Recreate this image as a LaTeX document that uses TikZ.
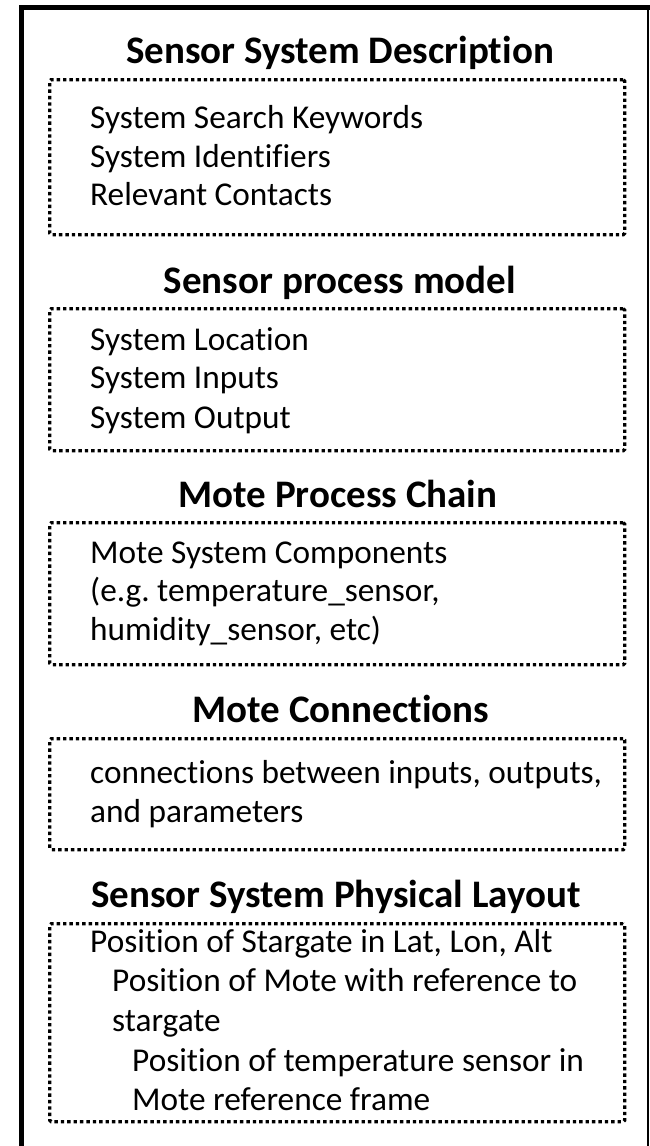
\documentclass[tikz,border=0pt]{standalone}
\usepackage{fontspec}
\setmainfont[Ligatures=NoCommon]{Carlito}
\begin{document}
\frenchspacing
\begin{tikzpicture}[x=1pt,y=-1pt,
  framerule/.style={line width=5pt, line join=miter},
  dotbox/.style={draw, line width=3.4pt, dash pattern=on 3.4pt off 3pt,
    rounded corners=1.5pt, inner sep=0pt, minimum width=575pt, anchor=north west},
  heading/.style={font=\fontsize{39}{44}\selectfont\bfseries, anchor=base, inner sep=0pt},
  item/.style={font=\fontsize{33.3}{39}\selectfont, anchor=base west, inner sep=0pt}]
\useasboundingbox (0,0) rectangle (650,1146);
\clip (0,0) rectangle (650,1146);

% outer frame, open at the bottom
\coordinate (fbl) at (21,1160);
\coordinate (ftl) at (21,7.5);
\coordinate (ftr) at (660,7.5);
\coordinate (frt) at (648,7.5);
\coordinate (frb) at (648,1160);
\draw[framerule] (fbl) -- (ftl) -- (ftr);
\draw[line width=2.5pt] (frt) -- (frb);

% Sensor System Description
\node[heading] (t1) at (340,63) {Sensor System Description};
\node[dotbox, minimum height=155pt] (b1) at (48,78) {};
\node[item] (b1a) at (90,128) {System Search Keywords};
\node[item] (b1b) at (90,167) {System Identifiers};
\node[item] (b1c) at (90,205) {Relevant Contacts};

% Sensor process model
\node[heading] (t2) at (340,293) {Sensor process model};
\node[dotbox, minimum height=142pt] (b2) at (48,307) {};
\node[item] (b2a) at (90,350) {System Location};
\node[item] (b2b) at (90,388) {System Inputs};
\node[item] (b2c) at (90,428) {System Output};

% Mote Process Chain
\node[heading] (t3) at (338,507) {Mote Process Chain};
\node[dotbox, minimum height=142pt] (b3) at (48,521) {};
\node[item] (b3a) at (90,563) {Mote System Components};
\node[item] (b3b) at (90,601) {(e.g. temperature\_sensor,};
\node[item] (b3c) at (90,640) {humidity\_sensor, etc)};

% Mote Connections
\node[heading] (t4) at (341,722) {Mote Connections};
\node[dotbox, minimum height=111pt] (b4) at (48,737) {};
\node[item] (b4a) at (90,783) {connections between inputs, outputs,};
\node[item] (b4b) at (90,822) {and parameters};

% Sensor System Physical Layout
\node[heading] (t5) at (336,907) {Sensor System Physical Layout};
\node[dotbox, minimum height=198pt] (b5) at (48,922) {};
\node[item] (b5a) at (90,952) {Position of Stargate in Lat, Lon, Alt};
\node[item] (b5b) at (112,991) {Position of Mote with reference to};
\node[item] (b5c) at (112,1031) {stargate};
\node[item] (b5d) at (132,1071) {Position of temperature sensor in};
\node[item] (b5e) at (132,1110) {Mote reference frame};
\end{tikzpicture}
\end{document}
